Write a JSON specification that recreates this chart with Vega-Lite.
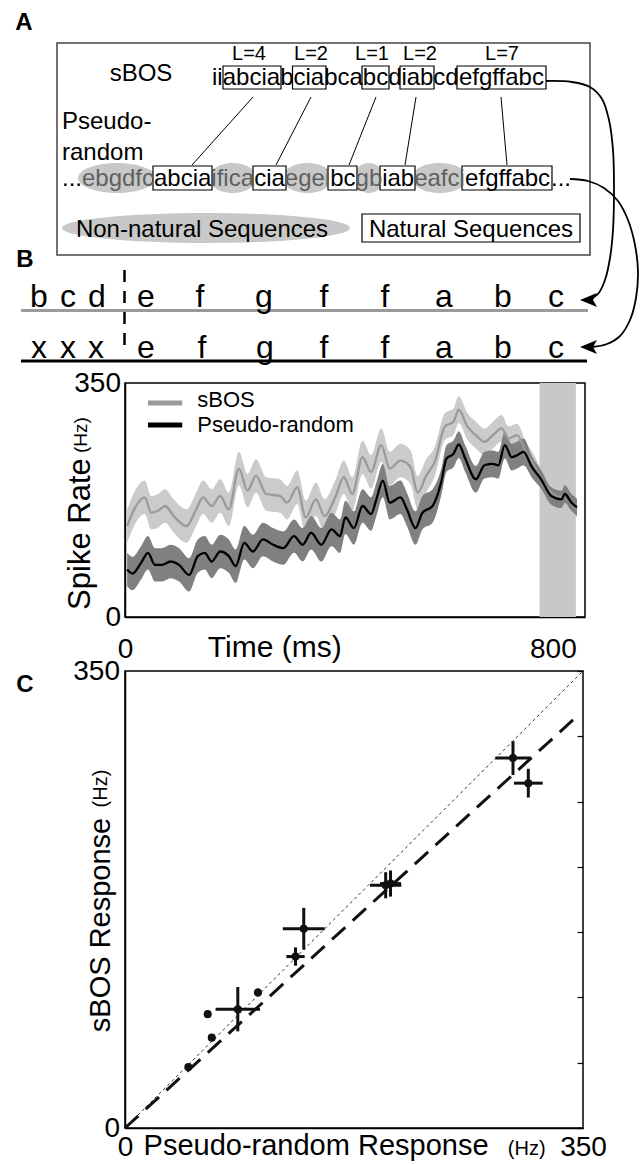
{
  "$schema": "https://vega.github.io/schema/vega-lite/v6.json",
  "padding": 0,
  "spacing": 54,
  "bounds": "flush",
  "config": {
    "font": "Liberation Sans",
    "view": {"stroke": null},
    "axis": {"domainColor": "#000", "domainWidth": 1.5, "tickColor": "#000", "tickWidth": 1.2, "labelColor": "#000", "labelFontSize": 28, "labelFont": "Liberation Sans", "grid": false, "labelFlush": false, "labelOverlap": false, "zindex": 1}
  },
  "datasets": {
    "canvas": [{"x": 0, "x2": 644, "y": 0, "y2": 329}],
    "frame": [{"x": 57, "x2": 590, "y": 43, "y2": 255}],
    "ellipses": [
      {"seg": "ebgdfc", "x": 117, "y": 178},
      {"seg": "ifica", "x": 232.7, "y": 178},
      {"seg": "egei", "x": 307.5, "y": 178},
      {"seg": "gb", "x": 368.9, "y": 178},
      {"seg": "eafci", "x": 439.5, "y": 178},
      {"seg": "legend", "x": 206, "y": 228}
    ],
    "boxes": [
      {"x": 223, "x2": 281, "y": 66, "y2": 89},
      {"x": 292.5, "x2": 326, "y": 66, "y2": 89},
      {"x": 362, "x2": 389, "y": 66, "y2": 89},
      {"x": 400, "x2": 434, "y": 66, "y2": 89},
      {"x": 457, "x2": 546, "y": 66, "y2": 89},
      {"x": 153, "x2": 212, "y": 166, "y2": 190},
      {"x": 253, "x2": 286, "y": 166, "y2": 190},
      {"x": 328, "x2": 357, "y": 166, "y2": 190},
      {"x": 380, "x2": 415, "y": 166, "y2": 190},
      {"x": 462, "x2": 552, "y": 166, "y2": 190},
      {"x": 362, "x2": 580, "y": 214, "y2": 242}
    ],
    "connectors": [
      {"x": 253, "y": 97, "x2": 192, "y2": 165},
      {"x": 311, "y": 97, "x2": 276, "y2": 165},
      {"x": 376, "y": 97, "x2": 349, "y2": 165},
      {"x": 416, "y": 97, "x2": 405, "y2": 165},
      {"x": 501, "y": 97, "x2": 507, "y2": 165}
    ],
    "rows": [
      {"x": 21, "x2": 588, "y": 310.5, "c": "sBOS"},
      {"x": 21, "x2": 587, "y": 361, "c": "Pseudo-random"}
    ],
    "onset": [{"x": 124.5, "y": 270, "y2": 352}],
    "curves": [
      {"c": 1, "i": 1, "x": 546, "y": 81}, {"c": 1, "i": 2, "x": 572, "y": 82}, {"c": 1, "i": 3, "x": 590, "y": 87},
      {"c": 1, "i": 4, "x": 602, "y": 99}, {"c": 1, "i": 5, "x": 609, "y": 120}, {"c": 1, "i": 6, "x": 613, "y": 150},
      {"c": 1, "i": 7, "x": 614, "y": 190}, {"c": 1, "i": 8, "x": 613, "y": 230}, {"c": 1, "i": 9, "x": 610, "y": 258},
      {"c": 1, "i": 10, "x": 605, "y": 280}, {"c": 1, "i": 11, "x": 598, "y": 294}, {"c": 1, "i": 12, "x": 590, "y": 299},
      {"c": 2, "i": 1, "x": 570, "y": 179}, {"c": 2, "i": 2, "x": 588, "y": 181}, {"c": 2, "i": 3, "x": 604, "y": 188},
      {"c": 2, "i": 4, "x": 618, "y": 201}, {"c": 2, "i": 5, "x": 628, "y": 220}, {"c": 2, "i": 6, "x": 635, "y": 245},
      {"c": 2, "i": 7, "x": 638, "y": 272}, {"c": 2, "i": 8, "x": 636, "y": 298}, {"c": 2, "i": 9, "x": 630, "y": 320},
      {"c": 2, "i": 10, "x": 620, "y": 336}, {"c": 2, "i": 11, "x": 607, "y": 344}, {"c": 2, "i": 12, "x": 592, "y": 347}
    ],
    "heads": [{"x": 589, "y": 300}, {"x": 589, "y": 347}],
    "txt": [
      {"r": "panel", "x": 24, "y": 30, "t": "A"},
      {"r": "panel", "x": 25, "y": 267, "t": "B"},
      {"r": "seq", "x": 141, "y": 81, "t": "sBOS"},
      {"r": "lab", "x": 62, "y": 129, "t": "Pseudo-"},
      {"r": "lab", "x": 62, "y": 160, "t": "random"},
      {"r": "L", "x": 249, "y": 60, "t": "L=4"},
      {"r": "L", "x": 311, "y": 60, "t": "L=2"},
      {"r": "L", "x": 372, "y": 60, "t": "L=1"},
      {"r": "L", "x": 420, "y": 60, "t": "L=2"},
      {"r": "L", "x": 502, "y": 60, "t": "L=7"},
      {"r": "seq", "x": 217.3, "y": 85, "t": "ii"},
      {"r": "seq", "x": 251.4, "y": 85, "t": "abcia"},
      {"r": "seq", "x": 286.8, "y": 85, "t": "b"},
      {"r": "seq", "x": 308.8, "y": 85, "t": "cia"},
      {"r": "seq", "x": 343.5, "y": 85, "t": "bca"},
      {"r": "seq", "x": 375.5, "y": 85, "t": "bc"},
      {"r": "seq", "x": 394.8, "y": 85, "t": "d"},
      {"r": "seq", "x": 417.4, "y": 85, "t": "iab"},
      {"r": "seq", "x": 446, "y": 85, "t": "cd"},
      {"r": "seq", "x": 501.4, "y": 85, "t": "efgffabc"},
      {"r": "seq", "x": 72, "y": 186, "t": "..."},
      {"r": "nn", "x": 118, "y": 186, "t": "ebgdfc"},
      {"r": "seq", "x": 182.7, "y": 186, "t": "abcia"},
      {"r": "nn", "x": 232.7, "y": 186, "t": "ifica"},
      {"r": "seq", "x": 269.5, "y": 186, "t": "cia"},
      {"r": "nn", "x": 307.5, "y": 186, "t": "egei"},
      {"r": "seq", "x": 342.9, "y": 186, "t": "bc"},
      {"r": "nn", "x": 368.9, "y": 186, "t": "gb"},
      {"r": "seq", "x": 398.2, "y": 186, "t": "iab"},
      {"r": "nn", "x": 439.5, "y": 186, "t": "eafci"},
      {"r": "seq", "x": 507.6, "y": 186, "t": "efgffabc"},
      {"r": "seq", "x": 561, "y": 186, "t": "..."},
      {"r": "seq", "x": 202, "y": 237, "t": "Non-natural Sequences"},
      {"r": "seq", "x": 471, "y": 237, "t": "Natural Sequences"},
      {"r": "big", "x": 39, "y": 307, "t": "b"}, {"r": "big", "x": 68, "y": 307, "t": "c"}, {"r": "big", "x": 97, "y": 307, "t": "d"},
      {"r": "big", "x": 146, "y": 307, "t": "e"}, {"r": "big", "x": 200, "y": 307, "t": "f"}, {"r": "big", "x": 264, "y": 307, "t": "g"},
      {"r": "big", "x": 324, "y": 307, "t": "f"}, {"r": "big", "x": 385, "y": 307, "t": "f"}, {"r": "big", "x": 444, "y": 307, "t": "a"},
      {"r": "big", "x": 503, "y": 307, "t": "b"}, {"r": "big", "x": 556, "y": 307, "t": "c"},
      {"r": "big", "x": 39, "y": 358, "t": "x"}, {"r": "big", "x": 68, "y": 358, "t": "x"}, {"r": "big", "x": 96, "y": 358, "t": "x"},
      {"r": "big", "x": 146, "y": 358, "t": "e"}, {"r": "big", "x": 202, "y": 358, "t": "f"}, {"r": "big", "x": 265, "y": 358, "t": "g"},
      {"r": "big", "x": 324, "y": 358, "t": "f"}, {"r": "big", "x": 385, "y": 358, "t": "f"}, {"r": "big", "x": 444, "y": 358, "t": "a"},
      {"r": "big", "x": 503, "y": 358, "t": "b"}, {"r": "big", "x": 556, "y": 358, "t": "c"}
    ],
    "shade": [{"t": 775, "t2": 843, "v": 0, "v2": 350}],
    "ticksBx": [{"t": 100}, {"t": 200}, {"t": 300}, {"t": 400}, {"t": 500}, {"t": 600}, {"t": 700}, {"t": 800}],
    "ticksBy": [{"v": 50}, {"v": 100}, {"v": 150}, {"v": 200}, {"v": 250}, {"v": 300}],
    "ticksC": [{"g": 50}, {"g": 100}, {"g": 150}, {"g": 200}, {"g": 250}, {"g": 300}],
    "trace": [
      {"s": "sBOS", "t": 4, "v": 136, "lo": 111, "hi": 161}, {"s": "sBOS", "t": 17, "v": 161, "lo": 136, "hi": 186},
      {"s": "sBOS", "t": 37, "v": 179, "lo": 154, "hi": 204}, {"s": "sBOS", "t": 49, "v": 156, "lo": 131, "hi": 181},
      {"s": "sBOS", "t": 62, "v": 159, "lo": 134, "hi": 184}, {"s": "sBOS", "t": 75, "v": 166, "lo": 141, "hi": 191},
      {"s": "sBOS", "t": 91, "v": 151, "lo": 126, "hi": 176}, {"s": "sBOS", "t": 115, "v": 136, "lo": 111, "hi": 161},
      {"s": "sBOS", "t": 133, "v": 161, "lo": 136, "hi": 186}, {"s": "sBOS", "t": 146, "v": 179, "lo": 154, "hi": 204},
      {"s": "sBOS", "t": 162, "v": 166, "lo": 141, "hi": 191}, {"s": "sBOS", "t": 178, "v": 181, "lo": 156, "hi": 206},
      {"s": "sBOS", "t": 194, "v": 161, "lo": 136, "hi": 186}, {"s": "sBOS", "t": 213, "v": 222, "lo": 197, "hi": 247},
      {"s": "sBOS", "t": 229, "v": 189, "lo": 164, "hi": 214}, {"s": "sBOS", "t": 245, "v": 211, "lo": 186, "hi": 236},
      {"s": "sBOS", "t": 264, "v": 184, "lo": 159, "hi": 209}, {"s": "sBOS", "t": 290, "v": 181, "lo": 156, "hi": 206},
      {"s": "sBOS", "t": 303, "v": 171, "lo": 146, "hi": 196}, {"s": "sBOS", "t": 322, "v": 194, "lo": 169, "hi": 219},
      {"s": "sBOS", "t": 338, "v": 149, "lo": 124, "hi": 174}, {"s": "sBOS", "t": 357, "v": 176, "lo": 151, "hi": 201},
      {"s": "sBOS", "t": 373, "v": 151, "lo": 126, "hi": 176}, {"s": "sBOS", "t": 393, "v": 179, "lo": 154, "hi": 204},
      {"s": "sBOS", "t": 409, "v": 209, "lo": 184, "hi": 234}, {"s": "sBOS", "t": 425, "v": 184, "lo": 159, "hi": 209},
      {"s": "sBOS", "t": 444, "v": 239, "lo": 214, "hi": 264}, {"s": "sBOS", "t": 460, "v": 217, "lo": 192, "hi": 242},
      {"s": "sBOS", "t": 479, "v": 257, "lo": 232, "hi": 282}, {"s": "sBOS", "t": 495, "v": 222, "lo": 197, "hi": 247},
      {"s": "sBOS", "t": 515, "v": 234, "lo": 209, "hi": 259}, {"s": "sBOS", "t": 534, "v": 224, "lo": 199, "hi": 249},
      {"s": "sBOS", "t": 547, "v": 186, "lo": 161, "hi": 211}, {"s": "sBOS", "t": 563, "v": 211, "lo": 186, "hi": 236},
      {"s": "sBOS", "t": 579, "v": 232, "lo": 210, "hi": 254}, {"s": "sBOS", "t": 598, "v": 285, "lo": 265, "hi": 305},
      {"s": "sBOS", "t": 614, "v": 292, "lo": 272, "hi": 312}, {"s": "sBOS", "t": 624, "v": 310, "lo": 290, "hi": 330},
      {"s": "sBOS", "t": 640, "v": 285, "lo": 265, "hi": 305}, {"s": "sBOS", "t": 656, "v": 272, "lo": 252, "hi": 292},
      {"s": "sBOS", "t": 672, "v": 262, "lo": 242, "hi": 282}, {"s": "sBOS", "t": 688, "v": 272, "lo": 252, "hi": 292},
      {"s": "sBOS", "t": 704, "v": 282, "lo": 262, "hi": 302}, {"s": "sBOS", "t": 717, "v": 267, "lo": 249, "hi": 285},
      {"s": "sBOS", "t": 733, "v": 272, "lo": 255, "hi": 289}, {"s": "sBOS", "t": 749, "v": 247, "lo": 231, "hi": 263},
      {"s": "sBOS", "t": 765, "v": 227, "lo": 212, "hi": 242}, {"s": "sBOS", "t": 778, "v": 206, "lo": 192, "hi": 220},
      {"s": "sBOS", "t": 797, "v": 186, "lo": 173, "hi": 199}, {"s": "sBOS", "t": 816, "v": 179, "lo": 166, "hi": 192},
      {"s": "sBOS", "t": 822, "v": 184, "lo": 171, "hi": 197}, {"s": "sBOS", "t": 835, "v": 171, "lo": 158, "hi": 184},
      {"s": "sBOS", "t": 845, "v": 161, "lo": 148, "hi": 174},
      {"s": "Pseudo-random", "t": 4, "v": 71, "lo": 46, "hi": 96}, {"s": "Pseudo-random", "t": 14, "v": 65, "lo": 40, "hi": 90},
      {"s": "Pseudo-random", "t": 30, "v": 81, "lo": 56, "hi": 106}, {"s": "Pseudo-random", "t": 43, "v": 96, "lo": 71, "hi": 121},
      {"s": "Pseudo-random", "t": 56, "v": 78, "lo": 53, "hi": 103}, {"s": "Pseudo-random", "t": 69, "v": 78, "lo": 53, "hi": 103},
      {"s": "Pseudo-random", "t": 85, "v": 83, "lo": 58, "hi": 108}, {"s": "Pseudo-random", "t": 101, "v": 78, "lo": 53, "hi": 103},
      {"s": "Pseudo-random", "t": 120, "v": 63, "lo": 38, "hi": 88}, {"s": "Pseudo-random", "t": 136, "v": 91, "lo": 66, "hi": 116},
      {"s": "Pseudo-random", "t": 149, "v": 96, "lo": 71, "hi": 121}, {"s": "Pseudo-random", "t": 162, "v": 83, "lo": 58, "hi": 108},
      {"s": "Pseudo-random", "t": 178, "v": 98, "lo": 73, "hi": 123}, {"s": "Pseudo-random", "t": 194, "v": 91, "lo": 66, "hi": 116},
      {"s": "Pseudo-random", "t": 207, "v": 76, "lo": 51, "hi": 101}, {"s": "Pseudo-random", "t": 223, "v": 111, "lo": 86, "hi": 136},
      {"s": "Pseudo-random", "t": 239, "v": 98, "lo": 73, "hi": 123}, {"s": "Pseudo-random", "t": 258, "v": 116, "lo": 91, "hi": 141},
      {"s": "Pseudo-random", "t": 277, "v": 108, "lo": 83, "hi": 133}, {"s": "Pseudo-random", "t": 296, "v": 103, "lo": 78, "hi": 128},
      {"s": "Pseudo-random", "t": 316, "v": 121, "lo": 96, "hi": 146}, {"s": "Pseudo-random", "t": 332, "v": 108, "lo": 83, "hi": 133},
      {"s": "Pseudo-random", "t": 348, "v": 126, "lo": 101, "hi": 151}, {"s": "Pseudo-random", "t": 367, "v": 108, "lo": 83, "hi": 133},
      {"s": "Pseudo-random", "t": 386, "v": 131, "lo": 106, "hi": 156}, {"s": "Pseudo-random", "t": 402, "v": 121, "lo": 96, "hi": 146},
      {"s": "Pseudo-random", "t": 412, "v": 149, "lo": 124, "hi": 174}, {"s": "Pseudo-random", "t": 428, "v": 133, "lo": 108, "hi": 158},
      {"s": "Pseudo-random", "t": 444, "v": 166, "lo": 141, "hi": 191}, {"s": "Pseudo-random", "t": 460, "v": 154, "lo": 129, "hi": 179},
      {"s": "Pseudo-random", "t": 470, "v": 176, "lo": 151, "hi": 201}, {"s": "Pseudo-random", "t": 482, "v": 204, "lo": 179, "hi": 229},
      {"s": "Pseudo-random", "t": 495, "v": 171, "lo": 146, "hi": 196}, {"s": "Pseudo-random", "t": 515, "v": 179, "lo": 154, "hi": 204},
      {"s": "Pseudo-random", "t": 527, "v": 161, "lo": 136, "hi": 186}, {"s": "Pseudo-random", "t": 543, "v": 133, "lo": 108, "hi": 158},
      {"s": "Pseudo-random", "t": 556, "v": 156, "lo": 131, "hi": 181}, {"s": "Pseudo-random", "t": 575, "v": 166, "lo": 141, "hi": 191},
      {"s": "Pseudo-random", "t": 591, "v": 201, "lo": 181, "hi": 221}, {"s": "Pseudo-random", "t": 601, "v": 237, "lo": 217, "hi": 257},
      {"s": "Pseudo-random", "t": 614, "v": 244, "lo": 224, "hi": 264}, {"s": "Pseudo-random", "t": 624, "v": 258, "lo": 238, "hi": 278},
      {"s": "Pseudo-random", "t": 636, "v": 237, "lo": 217, "hi": 257}, {"s": "Pseudo-random", "t": 656, "v": 206, "lo": 186, "hi": 226},
      {"s": "Pseudo-random", "t": 672, "v": 227, "lo": 207, "hi": 247}, {"s": "Pseudo-random", "t": 688, "v": 229, "lo": 209, "hi": 249},
      {"s": "Pseudo-random", "t": 698, "v": 227, "lo": 207, "hi": 247}, {"s": "Pseudo-random", "t": 710, "v": 257, "lo": 237, "hi": 277},
      {"s": "Pseudo-random", "t": 723, "v": 239, "lo": 219, "hi": 259}, {"s": "Pseudo-random", "t": 733, "v": 242, "lo": 222, "hi": 262},
      {"s": "Pseudo-random", "t": 745, "v": 247, "lo": 227, "hi": 267}, {"s": "Pseudo-random", "t": 761, "v": 224, "lo": 208, "hi": 240},
      {"s": "Pseudo-random", "t": 778, "v": 206, "lo": 192, "hi": 220}, {"s": "Pseudo-random", "t": 797, "v": 181, "lo": 168, "hi": 194},
      {"s": "Pseudo-random", "t": 816, "v": 176, "lo": 163, "hi": 189}, {"s": "Pseudo-random", "t": 822, "v": 184, "lo": 171, "hi": 197},
      {"s": "Pseudo-random", "t": 835, "v": 171, "lo": 158, "hi": 184}, {"s": "Pseudo-random", "t": 845, "v": 164, "lo": 151, "hi": 177}
    ],
    "legendB": [
      {"s": "sBOS", "t": 43, "t2": 107, "v": 320, "vl": 325, "label": "sBOS", "tl": 135},
      {"s": "Pseudo-random", "t": 43, "t2": 107, "v": 287, "vl": 287, "label": "Pseudo-random", "tl": 135}
    ],
    "titlesB": [
      {"t": 280, "v": -60, "label": "Time (ms)", "k": "x"},
      {"t": -65, "v": 124, "label": "Spike Rate", "k": "y"},
      {"t": -71, "v": 272, "label": "(Hz)", "k": "yu"}
    ],
    "refs": [
      {"k": "identity", "x": 0, "x2": 350, "y": 0, "y2": 350},
      {"k": "fit", "x": 0, "x2": 344, "y": 0, "y2": 314}
    ],
    "cells": [
      {"x": 48.4, "y": 46.7, "xlo": 46.4, "xhi": 50.4, "ylo": 44.7, "yhi": 48.7},
      {"x": 63.2, "y": 87.2, "xlo": 60.7, "xhi": 65.7, "ylo": 84.7, "yhi": 89.7},
      {"x": 66.3, "y": 69.2, "xlo": 64.3, "xhi": 68.3, "ylo": 67.2, "yhi": 71.2},
      {"x": 86.2, "y": 91.0, "xlo": 69.2, "xhi": 103.2, "ylo": 74.0, "yhi": 108.0},
      {"x": 101.6, "y": 103.8, "xlo": 98.6, "xhi": 104.6, "ylo": 100.8, "yhi": 106.8},
      {"x": 130.3, "y": 131.3, "xlo": 123.3, "xhi": 137.3, "ylo": 124.3, "yhi": 138.3},
      {"x": 136.6, "y": 152.6, "xlo": 120.6, "xhi": 152.6, "ylo": 136.6, "yhi": 168.6},
      {"x": 199.2, "y": 185.9, "xlo": 187.2, "xhi": 211.2, "ylo": 175.9, "yhi": 195.9},
      {"x": 202.9, "y": 187.2, "xlo": 194.9, "xhi": 210.9, "ylo": 177.2, "yhi": 197.2},
      {"x": 296.5, "y": 283.3, "xlo": 283.0, "xhi": 310.0, "ylo": 270.3, "yhi": 296.3},
      {"x": 308.2, "y": 264.1, "xlo": 297.2, "xhi": 319.2, "ylo": 253.1, "yhi": 275.1}
    ],
    "titlesC": [
      {"x": -76.4, "y": 333.9, "label": "C", "k": "panel"},
      {"x": 146, "y": -20.7, "label": "Pseudo-random Response", "k": "x"},
      {"x": 307, "y": -20.7, "label": "(Hz)", "k": "xu"},
      {"x": -11.5, "y": 155.5, "label": "sBOS Response", "k": "y"},
      {"x": -13.5, "y": 260, "label": "(Hz)", "k": "yu"}
    ]
  },
  "vconcat": [
    {
      "width": 460,
      "height": 329,
      "view": {"stroke": null},
      "encoding": {
        "x": {"field": "x", "type": "quantitative", "scale": {"domain": [125, 585], "nice": false, "zero": false}, "axis": null},
        "y": {"field": "y", "type": "quantitative", "scale": {"domain": [0, 329], "reverse": true, "nice": false, "zero": false}, "axis": null}
      },
      "layer": [
        {"data": {"name": "canvas"}, "mark": {"type": "rect", "opacity": 0}, "encoding": {"x2": {"field": "x2"}, "y2": {"field": "y2"}}},
        {"data": {"name": "frame"}, "mark": {"type": "rect", "fill": "white", "fillOpacity": 0, "stroke": "#444", "strokeWidth": 1.5}, "encoding": {"x2": {"field": "x2"}, "y2": {"field": "y2"}}},
        {
          "data": {"name": "ellipses"},
          "mark": {"type": "point", "filled": true, "size": 4, "opacity": 1, "color": "#c8c8c8", "strokeWidth": 0},
          "encoding": {
            "shape": {
              "field": "seg", "type": "nominal", "legend": null,
              "scale": {
                "domain": ["ebgdfc", "ifica", "egei", "gb", "eafci", "legend"],
                "range": [
                  "M-39,0C-39,-8.28,-21.54,-15,0,-15C21.54,-15,39,-8.28,39,0C39,8.28,21.54,15,0,15C-21.54,15,-39,8.28,-39,0Z",
                  "M-24,0C-24,-8.28,-13.26,-15,0,-15C13.26,-15,24,-8.28,24,0C24,8.28,13.26,15,0,15C-13.26,15,-24,8.28,-24,0Z",
                  "M-25,0C-25,-8.28,-13.81,-15,0,-15C13.81,-15,25,-8.28,25,0C25,8.28,13.81,15,0,15C-13.81,15,-25,8.28,-25,0Z",
                  "M-15,0C-15,-8.28,-8.28,-15,0,-15C8.28,-15,15,-8.28,15,0C15,8.28,8.28,15,0,15C-8.28,15,-15,8.28,-15,0Z",
                  "M-28,0C-28,-8.28,-15.46,-15,0,-15C15.46,-15,28,-8.28,28,0C28,8.28,15.46,15,0,15C-15.46,15,-28,8.28,-28,0Z",
                  "M-144,0C-144,-8.28,-79.53,-15,0,-15C79.53,-15,144,-8.28,144,0C144,8.28,79.53,15,0,15C-79.53,15,-144,8.28,-144,0Z"
                ]
              }
            }
          }
        },
        {"data": {"name": "boxes"}, "mark": {"type": "rect", "fill": "white", "stroke": "#000", "strokeWidth": 1.2}, "encoding": {"x2": {"field": "x2"}, "y2": {"field": "y2"}}},
        {"data": {"name": "connectors"}, "mark": {"type": "rule", "color": "#000", "strokeWidth": 1}, "encoding": {"x2": {"field": "x2"}, "y2": {"field": "y2"}}},
        {
          "data": {"name": "rows"},
          "mark": {"type": "rule", "strokeWidth": 3},
          "encoding": {
            "x2": {"field": "x2"},
            "color": {"field": "c", "type": "nominal", "legend": null, "scale": {"domain": ["sBOS", "Pseudo-random"], "range": ["#9a9a9a", "#000000"]}}
          }
        },
        {"data": {"name": "onset"}, "mark": {"type": "rule", "color": "#000", "strokeWidth": 2.5, "strokeDash": [12, 9]}, "encoding": {"y2": {"field": "y2"}}},
        {
          "data": {"name": "curves"},
          "mark": {"type": "line", "interpolate": "catmull-rom", "color": "#000", "strokeWidth": 1.8},
          "encoding": {"detail": {"field": "c", "type": "nominal"}, "order": {"field": "i", "type": "quantitative"}}
        },
        {"data": {"name": "heads"}, "mark": {"type": "point", "shape": "M-9,0L8,-7L4,0L8,7Z", "size": 4, "filled": true, "opacity": 1, "color": "#000"}, "encoding": {}},
        {"data": {"name": "txt"}, "transform": [{"filter": "datum.r == 'panel'"}], "mark": {"type": "text", "fontSize": 24, "fontWeight": "bold", "align": "center", "baseline": "alphabetic", "color": "#000"}, "encoding": {"text": {"field": "t"}}},
        {"data": {"name": "txt"}, "transform": [{"filter": "datum.r == 'seq'"}], "mark": {"type": "text", "fontSize": 24, "align": "center", "baseline": "alphabetic", "color": "#000"}, "encoding": {"text": {"field": "t"}}},
        {"data": {"name": "txt"}, "transform": [{"filter": "datum.r == 'nn'"}], "mark": {"type": "text", "fontSize": 24, "align": "center", "baseline": "alphabetic", "color": "#5f5f5f"}, "encoding": {"text": {"field": "t"}}},
        {"data": {"name": "txt"}, "transform": [{"filter": "datum.r == 'L'"}], "mark": {"type": "text", "fontSize": 20, "align": "center", "baseline": "alphabetic", "color": "#000"}, "encoding": {"text": {"field": "t"}}},
        {"data": {"name": "txt"}, "transform": [{"filter": "datum.r == 'lab'"}], "mark": {"type": "text", "fontSize": 24, "align": "left", "baseline": "alphabetic", "color": "#000"}, "encoding": {"text": {"field": "t"}}},
        {"data": {"name": "txt"}, "transform": [{"filter": "datum.r == 'big'"}], "mark": {"type": "text", "fontSize": 32, "align": "center", "baseline": "alphabetic", "color": "#000"}, "encoding": {"text": {"field": "t"}}}
      ]
    },
    {
      "width": 460,
      "height": 234,
      "view": {"stroke": "#000", "strokeWidth": 1.5},
      "resolve": {"axis": {"x": "independent", "y": "independent"}},
      "encoding": {
        "x": {"field": "t", "type": "quantitative", "scale": {"domain": [0, 860], "nice": false, "zero": false}, "axis": null},
        "y": {"field": "v", "type": "quantitative", "scale": {"domain": [0, 350], "nice": false, "zero": false}, "axis": null}
      },
      "layer": [
        {"data": {"name": "shade"}, "mark": {"type": "rect", "color": "#c8c8c8"}, "encoding": {"x2": {"field": "t2"}, "y2": {"field": "v2"}}},
        {"data": {"name": "trace"}, "transform": [{"filter": "datum.s == 'sBOS'"}], "mark": {"type": "area", "color": "#cbcbcb", "opacity": 1, "interpolate": "monotone"}, "encoding": {"y": {"field": "lo", "type": "quantitative", "axis": null}, "y2": {"field": "hi"}}},
        {"data": {"name": "trace"}, "transform": [{"filter": "datum.s == 'Pseudo-random'"}], "mark": {"type": "area", "color": "#808080", "opacity": 1, "interpolate": "monotone"}, "encoding": {"y": {"field": "lo", "type": "quantitative", "axis": null}, "y2": {"field": "hi"}}},
        {
          "data": {"name": "trace"},
          "mark": {"type": "line", "strokeWidth": 2.3, "interpolate": "monotone"},
          "encoding": {
            "x": {
              "field": "t", "type": "quantitative", "scale": {"domain": [0, 860], "nice": false, "zero": false},
              "axis": {"orient": "bottom", "values": [0, 800], "ticks": false, "labelPadding": 18, "title": null}
            },
            "y": {
              "field": "v", "type": "quantitative", "scale": {"domain": [0, 350], "nice": false, "zero": false},
              "axis": {"orient": "left", "values": [0, 350], "ticks": false, "labelPadding": 4.5, "title": null}
            },
            "color": {"field": "s", "type": "nominal", "legend": null, "scale": {"domain": ["sBOS", "Pseudo-random"], "range": ["#959595", "#111111"]}}
          }
        },
        {"data": {"name": "ticksBx"}, "mark": {"type": "rule", "color": "#000", "strokeWidth": 1.2}, "encoding": {"y": {"datum": 0}, "y2": {"datum": 9}}},
        {"data": {"name": "ticksBy"}, "mark": {"type": "rule", "color": "#000", "strokeWidth": 1.2}, "encoding": {"x": {"datum": 0}, "x2": {"datum": 11}}},
        {
          "data": {"name": "legendB"},
          "mark": {"type": "rule", "strokeWidth": 5},
          "encoding": {"x2": {"field": "t2"}, "color": {"field": "s", "type": "nominal", "legend": null}}
        },
        {
          "data": {"name": "legendB"},
          "mark": {"type": "text", "fontSize": 22, "align": "left", "baseline": "middle", "color": "#000"},
          "encoding": {"x": {"field": "tl", "type": "quantitative", "axis": null}, "y": {"field": "vl", "type": "quantitative", "axis": null}, "text": {"field": "label"}}
        },
        {"data": {"name": "titlesB"}, "transform": [{"filter": "datum.k == 'x'"}], "mark": {"type": "text", "fontSize": 30, "align": "center", "baseline": "alphabetic", "color": "#000"}, "encoding": {"text": {"field": "label"}}},
        {"data": {"name": "titlesB"}, "transform": [{"filter": "datum.k == 'y'"}], "mark": {"type": "text", "fontSize": 31, "angle": 270, "align": "center", "baseline": "alphabetic", "color": "#000"}, "encoding": {"text": {"field": "label"}}},
        {"data": {"name": "titlesB"}, "transform": [{"filter": "datum.k == 'yu'"}], "mark": {"type": "text", "fontSize": 19, "angle": 270, "align": "center", "baseline": "alphabetic", "color": "#000"}, "encoding": {"text": {"field": "label"}}}
      ]
    },
    {
      "width": 458,
      "height": 457,
      "view": {"stroke": "#000", "strokeWidth": 1.5},
      "resolve": {"axis": {"x": "independent", "y": "independent"}},
      "encoding": {
        "x": {"field": "x", "type": "quantitative", "scale": {"domain": [0, 350], "nice": false, "zero": false}, "axis": null},
        "y": {"field": "y", "type": "quantitative", "scale": {"domain": [0, 350], "nice": false, "zero": false}, "axis": null}
      },
      "layer": [
        {
          "data": {"name": "refs"}, "transform": [{"filter": "datum.k == 'identity'"}],
          "mark": {"type": "rule", "color": "#333", "strokeWidth": 1, "strokeDash": [3, 3]},
          "encoding": {
            "x2": {"field": "x2"}, "y2": {"field": "y2"},
            "y": {"field": "y", "type": "quantitative", "scale": {"domain": [0, 350], "nice": false, "zero": false}, "axis": {"orient": "right", "values": [0, 50, 100, 150, 200, 250, 300, 350], "labels": false, "domain": false, "tickSize": -6, "title": null}}
          }
        },
        {
          "data": {"name": "refs"}, "transform": [{"filter": "datum.k == 'fit'"}],
          "mark": {"type": "rule", "color": "#111", "strokeWidth": 3, "strokeDash": [18, 10]},
          "encoding": {"x2": {"field": "x2"}, "y2": {"field": "y2"}}
        },
        {"data": {"name": "ticksC"}, "mark": {"type": "rule", "color": "#000", "strokeWidth": 1.2}, "encoding": {"x": {"field": "g", "type": "quantitative", "axis": null}, "y": {"datum": 0}, "y2": {"datum": 4.6}}},
        {"data": {"name": "ticksC"}, "mark": {"type": "rule", "color": "#000", "strokeWidth": 1.2}, "encoding": {"y": {"field": "g", "type": "quantitative", "axis": null}, "x": {"datum": 0}, "x2": {"datum": 4.6}}},
        {"data": {"name": "cells"}, "mark": {"type": "rule", "color": "#111", "strokeWidth": 3}, "encoding": {"x": {"field": "xlo", "type": "quantitative", "axis": null}, "x2": {"field": "xhi"}}},
        {"data": {"name": "cells"}, "mark": {"type": "rule", "color": "#111", "strokeWidth": 3}, "encoding": {"y": {"field": "ylo", "type": "quantitative", "axis": null}, "y2": {"field": "yhi"}}},
        {
          "data": {"name": "cells"},
          "mark": {"type": "point", "filled": true, "size": 65, "opacity": 1, "color": "#111"},
          "encoding": {
            "x": {"field": "x", "type": "quantitative", "scale": {"domain": [0, 350], "nice": false, "zero": false}, "axis": {"orient": "bottom", "values": [0, 350], "ticks": false, "labelPadding": 5, "title": null}},
            "y": {"field": "y", "type": "quantitative", "scale": {"domain": [0, 350], "nice": false, "zero": false}, "axis": {"orient": "left", "values": [0, 350], "ticks": false, "labelPadding": 5.5, "title": null}}
          }
        },
        {"data": {"name": "titlesC"}, "transform": [{"filter": "datum.k == 'panel'"}], "mark": {"type": "text", "fontSize": 24, "fontWeight": "bold", "align": "center", "baseline": "alphabetic", "color": "#000"}, "encoding": {"text": {"field": "label"}}},
        {"data": {"name": "titlesC"}, "transform": [{"filter": "datum.k == 'x'"}], "mark": {"type": "text", "fontSize": 29, "align": "center", "baseline": "alphabetic", "color": "#000"}, "encoding": {"text": {"field": "label"}}},
        {"data": {"name": "titlesC"}, "transform": [{"filter": "datum.k == 'xu'"}], "mark": {"type": "text", "fontSize": 20, "align": "center", "baseline": "alphabetic", "color": "#000"}, "encoding": {"text": {"field": "label"}}},
        {"data": {"name": "titlesC"}, "transform": [{"filter": "datum.k == 'y'"}], "mark": {"type": "text", "fontSize": 29, "angle": 270, "align": "center", "baseline": "alphabetic", "color": "#000"}, "encoding": {"text": {"field": "label"}}},
        {"data": {"name": "titlesC"}, "transform": [{"filter": "datum.k == 'yu'"}], "mark": {"type": "text", "fontSize": 20, "angle": 270, "align": "center", "baseline": "alphabetic", "color": "#000"}, "encoding": {"text": {"field": "label"}}}
      ]
    }
  ]
}
